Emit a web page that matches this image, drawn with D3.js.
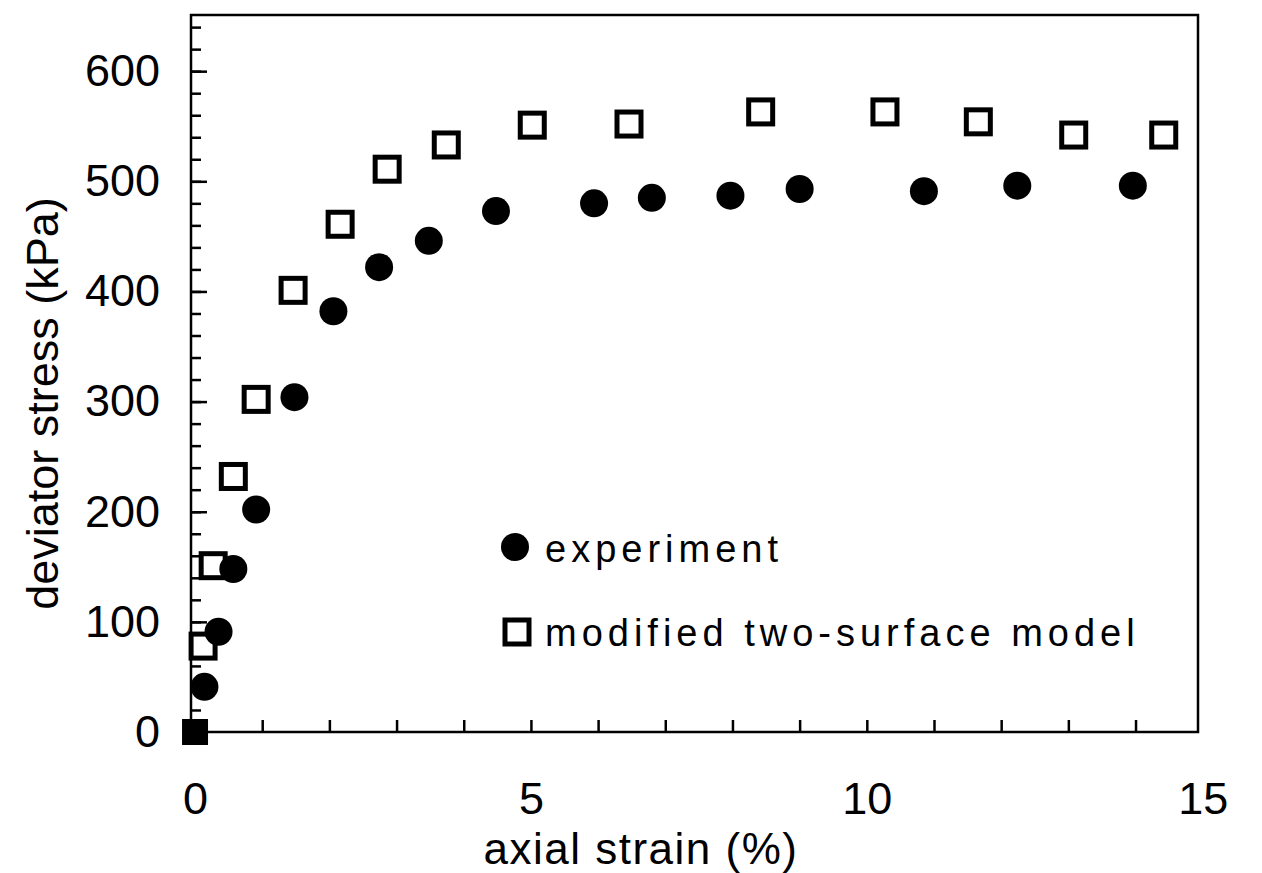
<!DOCTYPE html>
<html>
<head>
<meta charset="utf-8">
<script src="https://cdn.jsdelivr.net/npm/d3@7"></script>
<style>
  body { margin: 0; background: #fff; }
  text { font-family: "Liberation Sans", Arial, Helvetica, sans-serif; fill: #000; }
</style>
</head>
<body>
<div id="chart"></div>
<script>
var svgWidth = 1262;
var svgHeight = 873;

// experiment (filled circles)
var expStrain = [0.14, 0.35, 0.57, 0.91, 1.48, 2.06, 2.74, 3.48, 4.48, 5.94, 6.80, 7.97, 9.00, 10.85, 12.24, 13.96];
var expStress = [41, 91, 148, 202, 304, 382, 422, 446, 473, 480, 485, 487, 493, 491, 496, 496];

// modified two-surface model (open squares)
var modStrain = [0.12, 0.27, 0.57, 0.91, 1.46, 2.16, 2.86, 3.74, 5.02, 6.46, 8.42, 10.27, 11.66, 13.08, 14.42];
var modStress = [78, 151, 232, 302, 401, 461, 511, 533, 551, 552, 563, 563, 554, 542, 542];

// starting point, both series
var originStrain = [0];
var originStress = [0];

var xTickLabels = [0, 5, 10, 15];
var yTickLabels = [0, 100, 200, 300, 400, 500, 600];

var plot = { left: 191, right: 1198, top: 15, bottom: 732 };

var svg = d3.select("#chart")
  .append("svg")
  .attr("width", svgWidth)
  .attr("height", svgHeight);

var x = d3.scaleLinear()
  .domain([-0.06, 14.93])
  .range([plot.left, plot.right]);

var y = d3.scaleLinear()
  .domain([0, 651])
  .range([plot.bottom, plot.top]);

// y axis: minor ticks every 20, major every 100, all pointing inward
svg.append("g")
  .attr("transform", `translate(${plot.left},0)`)
  .call(d3.axisLeft(y).tickValues(d3.range(20, 650, 20)).tickSize(-10).tickFormat(""))
  .call(g => g.select(".domain").remove());

var yAxis = svg.append("g")
  .attr("transform", `translate(${plot.left},0)`)
  .call(d3.axisLeft(y).tickValues(yTickLabels).tickSize(-16).tickPadding(31).tickFormat(d3.format("d")));
yAxis.select(".domain").remove();
yAxis.selectAll("text").style("font-size", "45px");

// x axis: a tick at each percent
svg.append("g")
  .attr("transform", `translate(0,${plot.bottom})`)
  .call(d3.axisBottom(x).tickValues(d3.range(1, 15)).tickSize(-12).tickFormat(""))
  .call(g => g.select(".domain").remove());

var xAxis = svg.append("g")
  .attr("transform", `translate(0,${plot.bottom})`)
  .call(d3.axisBottom(x).tickValues(xTickLabels).tickSize(0).tickPadding(50).tickFormat(d3.format("d")));
xAxis.select(".domain").remove();
xAxis.selectAll("text").style("font-size", "45px");

svg.selectAll(".tick line")
  .attr("stroke", "#000")
  .attr("stroke-width", 2.5);

// frame
svg.append("rect")
  .attr("x", plot.left)
  .attr("y", plot.top)
  .attr("width", plot.right - plot.left)
  .attr("height", plot.bottom - plot.top)
  .attr("fill", "none")
  .attr("stroke", "#000")
  .attr("stroke-width", 2.5);

// axis titles
svg.append("text")
  .attr("x", 641)
  .attr("y", 864)
  .attr("text-anchor", "middle")
  .style("font-size", "44px")
  .style("letter-spacing", "1.5px")
  .text("axial strain (%)");

svg.append("text")
  .attr("transform", `translate(58, ${(plot.top + plot.bottom) / 2 + 30}) rotate(-90)`)
  .attr("text-anchor", "middle")
  .style("font-size", "45px")
  .text("deviator stress (kPa)");

// model points
var sq = 24;
svg.append("g").selectAll("rect")
  .data(d3.range(modStrain.length))
  .enter()
  .append("rect")
  .attr("x", i => x(modStrain[i]) - sq / 2)
  .attr("y", i => y(modStress[i]) - sq / 2)
  .attr("width", sq)
  .attr("height", sq)
  .attr("fill", "#fff")
  .attr("stroke", "#000")
  .attr("stroke-width", 5);

// experiment points
svg.append("g").selectAll("circle")
  .data(d3.range(expStrain.length))
  .enter()
  .append("circle")
  .attr("cx", i => x(expStrain[i]))
  .attr("cy", i => y(expStress[i]))
  .attr("r", 14)
  .attr("fill", "#000");

// origin, where both coincide
svg.append("g").selectAll("rect")
  .data(d3.range(originStrain.length))
  .enter()
  .append("rect")
  .attr("x", i => x(originStrain[i]) - 13)
  .attr("y", i => y(originStress[i]) - 13)
  .attr("width", 26)
  .attr("height", 26)
  .attr("fill", "#000");

// legend
var legend = svg.append("g");
legend.append("circle")
  .attr("cx", 515)
  .attr("cy", 547)
  .attr("r", 14)
  .attr("fill", "#000");
legend.append("text")
  .attr("x", 545)
  .attr("y", 562)
  .style("font-size", "38px")
  .style("letter-spacing", "5px")
  .text("experiment");
legend.append("rect")
  .attr("x", 517 - sq / 2)
  .attr("y", 632 - sq / 2)
  .attr("width", sq)
  .attr("height", sq)
  .attr("fill", "#fff")
  .attr("stroke", "#000")
  .attr("stroke-width", 5);
legend.append("text")
  .attr("x", 545)
  .attr("y", 646)
  .style("font-size", "38px")
  .style("letter-spacing", "5px")
  .text("modified two-surface model");
</script>
</body>
</html>
